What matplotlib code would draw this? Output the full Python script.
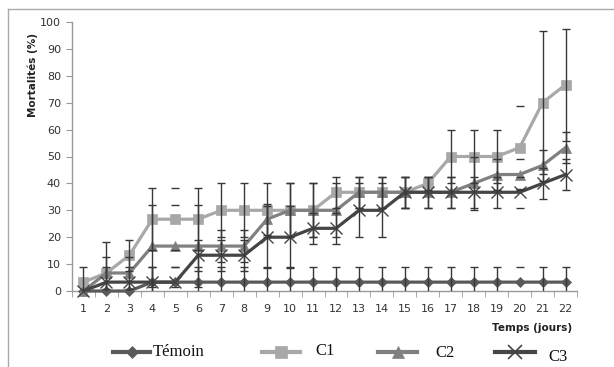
import matplotlib
matplotlib.use("Agg")
import matplotlib.pyplot as plt
from matplotlib.lines import Line2D
import numpy as np

days = list(range(1, 23))
temoin = [0, 0, 0, 3.3, 3.3, 3.3, 3.3, 3.3, 3.3, 3.3, 3.3, 3.3, 3.3, 3.3, 3.3, 3.3, 3.3, 3.3, 3.3, 3.3, 3.3, 3.3]
c1 = [3.3, 6.7, 13.3, 26.7, 26.7, 26.7, 30, 30, 30, 30, 30, 36.7, 36.7, 36.7, 36.7, 40, 50, 50, 50, 53.3, 70, 76.7]
c2 = [0, 6.7, 6.7, 16.7, 16.7, 16.7, 16.7, 16.7, 26.7, 30, 30, 30, 36.7, 36.7, 36.7, 36.7, 36.7, 40, 43.3, 43.3, 46.7, 53.3]
c3 = [0, 3.3, 3.3, 3.3, 3.3, 13.3, 13.3, 13.3, 20, 20, 23.3, 23.3, 30, 30, 36.7, 36.7, 36.7, 36.7, 36.7, 36.7, 40, 43.3]

temoin_err = [0, 0, 0, 5.8, 5.8, 5.8, 5.8, 5.8, 5.8, 5.8, 5.8, 5.8, 5.8, 5.8, 5.8, 5.8, 5.8, 5.8, 5.8, 5.8, 5.8, 5.8]
c1_err = [5.8, 11.5, 5.8, 11.5, 11.5, 11.5, 10, 10, 10, 10, 10, 5.8, 5.8, 5.8, 5.8, 2.5, 10, 10, 10, 15.3, 26.5, 20.8]
c2_err = [0, 5.8, 5.8, 15.3, 15.3, 15.3, 5.8, 5.8, 5.8, 10, 10, 10, 5.8, 5.8, 5.8, 5.8, 5.8, 10, 5.8, 5.8, 5.8, 5.8]
c3_err = [0, 5.8, 5.8, 5.8, 5.8, 5.8, 5.8, 5.8, 11.5, 11.5, 5.8, 5.8, 10, 10, 5.8, 5.8, 5.8, 5.8, 5.8, 5.8, 5.8, 5.8]

labels = ["Témoin", "C1", "C2", "C3"]
series = [temoin, c1, c2, c3]
errors = [temoin_err, c1_err, c2_err, c3_err]
colors = ["#5a5a5a", "#a8a8a8", "#808080", "#454545"]
markers = ["D", "s", "^", "x"]
msizes = [5, 7, 7, 9]

fig = plt.figure(figsize=(6.14, 3.67), dpi=100)
ax = fig.add_axes([72/614, 1-291/367, (577-72)/614, (291-22)/367])

x = np.array(days)
caps_only = np.isin(x, [5, 20])
for ys, er, col, mk, ms in zip(series, errors, colors, markers, msizes):
    ys = np.array(ys)
    ax.plot(x, ys, color=col, lw=2.3, marker=mk, ms=ms, mew=1.0 if mk == "x" else 0.5,
            mec=col, mfc=col, clip_on=False, zorder=3)
for ys, er in zip(series, errors):
    ys = np.array(ys); er = np.array(er)
    m = (~caps_only) & (er > 0)
    ax.errorbar(x[m], ys[m], yerr=er[m], fmt="none", ecolor="#383838", elinewidth=1.0,
                capsize=3, capthick=1.0, zorder=4)
    m2 = caps_only & (er > 0)
    ax.errorbar(x[m2], ys[m2], yerr=er[m2], fmt="none", ecolor="#383838", elinewidth=0,
                capsize=3, capthick=1.0, zorder=4)

ax.set_xlim(0.5, 22.5)
ax.set_ylim(0, 100)
ax.set_yticks(range(0, 101, 10))
ax.set_xticks(days)
ax.set_xticks(np.arange(0.5, 23, 1), minor=True)
ax.tick_params(axis="x", which="major", length=0, labelsize=8, pad=9, colors="#333333")
ax.tick_params(axis="x", which="minor", length=4, color="#999999", direction="out")
ax.tick_params(axis="y", length=4, color="#999999", labelsize=8, colors="#333333", pad=4)
ax.tick_params(axis="y", colors="#999999", labelcolor="#333333")
for s in ["top", "right"]:
    ax.spines[s].set_visible(False)
for s in ["left", "bottom"]:
    ax.spines[s].set_color("#999999")
    ax.spines[s].set_linewidth(1)

fig.text(33/614, 1-75/367, "Mortalités (%)", rotation=90, ha="center", va="center",
         fontsize=7.5, fontweight="bold", color="#222222")
fig.text(572/614, 1-328/367, "Temps (jours)", ha="right", va="center",
         fontsize=7.5, fontweight="bold", color="#222222")

# frame lines
fig.add_artist(Line2D([8/614, 8/614], [0, 1-9/367], color="#aaaaaa", lw=1))
fig.add_artist(Line2D([8/614, 1], [1-9/367, 1-9/367], color="#aaaaaa", lw=1))

# legend
leg_items = [(113, 150, 153, 352), (262, 300, 315, 351), (378, 417, 435, 353), (495, 535, 548, 357)]
for (x0, x1, tx, ty), lab, col, mk, ms in zip(leg_items, labels, colors, markers, msizes):
    yy = 1 - 352/367
    fig.add_artist(Line2D([x0/614, x1/614], [yy, yy], color=col, lw=3))
    fig.add_artist(Line2D([(x0+x1)/2/614], [yy], color=col, marker=mk, ms=ms+1,
                          mfc=col, mec=col, mew=1.2 if mk == "x" else 0.5))
    fig.text(tx/614, 1-ty/367, lab, ha="left", va="center", fontsize=12,
             family="Liberation Serif", color="#111111")

fig.savefig("out.png", dpi=100)
